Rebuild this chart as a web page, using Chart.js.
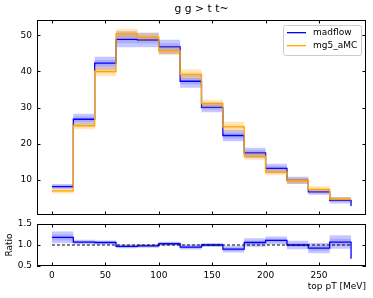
<!DOCTYPE html>
<html><head><meta charset="utf-8">
<script src="https://cdn.jsdelivr.net/npm/chart.js@4.4.0/dist/chart.umd.min.js"></script>
<style>
html,body{margin:0;padding:0;background:#fff;width:373px;height:298px;overflow:hidden}
canvas{position:absolute;left:0}
#main{top:0}
#ratio{top:218px}
</style></head><body>
<canvas id="main" width="373" height="218" style="width:373px;height:218px"></canvas>
<canvas id="ratio" width="373" height="80" style="width:373px;height:80px"></canvas>
<script>
const binEdges = [0,20,40,60,80,100,120,140,160,180,200,220,240,260,280];
const madflow = [8.2,26.8,42.3,48.9,48.7,46.8,37.3,30.1,22.3,17.5,13.2,9.9,6.7,4.4];
const madflowLast = 2.8;
const madflowErr = [0.7,1.5,1.8,2.2,2.0,2.0,1.8,1.4,1.6,1.4,1.3,1.0,0.8,0.9];
const mg5 = [7.0,25.0,40.0,50.4,49.5,45.7,39.2,31.1,24.7,16.6,12.2,9.8,7.4,4.7];
const mg5Err = [0.7,1.0,1.3,1.4,1.2,1.15,1.4,1.1,1.4,1.0,0.9,0.9,0.9,0.6];
const ratio = [1.18,1.07,1.06,0.965,0.98,1.03,0.95,1.0,0.90,1.06,1.11,1.0,0.925,1.07];
const ratioLast = 0.67;
const ratioErr = [0.14,0.055,0.05,0.045,0.045,0.045,0.06,0.05,0.08,0.1,0.095,0.1,0.12,0.16];
const xTicks = [0,50,100,150,200,250];
const yTicksMain = [10,20,30,40,50];
const yTicksRatio = [0.5,1.0,1.5];
const seriesNames = ['madflow','mg5_aMC'];
const titleText = 'g g > t t~';
const xTitle = 'top pT [MeV]';
const yTitleRatio = 'Ratio';

const FONT = 'DejaVu Sans';
const BLUE = '#0000ff', ORANGE = '#ffa500';

function steps(vals, last){
  const pts = vals.map((v,i)=>({x:binEdges[i], y:v}));
  pts.push({x:binEdges[vals.length], y: last===undefined ? vals[vals.length-1] : last});
  return pts;
}
function bandSets(vals, errs, k, color, order){
  return [
    {data: steps(vals.map((v,i)=>v+errs[i]*k)), stepped:'before', borderColor:'transparent', borderWidth:0, pointRadius:0, fill:'+1', backgroundColor:color, order},
    {data: steps(vals.map((v,i)=>v-errs[i]*k)), stepped:'before', borderColor:'transparent', borderWidth:0, pointRadius:0, fill:false, order}
  ];
}
function lineSet(vals, last, color, order, label){
  return {label, legend:!!label, data: steps(vals, last), stepped:'before', borderColor:color, borderWidth:1.3, pointRadius:0, fill:false, order};
}
function noPad(s){ s.paddingTop = 0; s.paddingBottom = 0; s.paddingLeft = 0; s.paddingRight = 0; }

const frame = {id:'frame', afterDraw(chart){
  const {ctx, chartArea:a, scales:{x,y}} = chart;
  ctx.save();
  ctx.strokeStyle = '#000'; ctx.lineWidth = 1;
  ctx.beginPath();
  x.ticks.forEach(t=>{
    const px = Math.round(x.getPixelForValue(t.value))+0.5;
    ctx.moveTo(px, a.bottom); ctx.lineTo(px, a.bottom-3.5);
    ctx.moveTo(px, a.top); ctx.lineTo(px, a.top+3.5);
  });
  y.ticks.forEach(t=>{
    const py = Math.round(y.getPixelForValue(t.value))+0.5;
    ctx.moveTo(a.left, py); ctx.lineTo(a.left+3.5, py);
    ctx.moveTo(a.right, py); ctx.lineTo(a.right-3.5, py);
  });
  ctx.stroke();
  ctx.strokeRect(Math.round(a.left)+0.5, Math.round(a.top)+0.5, Math.round(a.right-a.left)-1, Math.round(a.bottom-a.top)-1);
  ctx.restore();
}};

const legendBox = {id:'legendBox', afterDraw(chart){
  const items = chart.data.datasets.filter(d=>d.legend);
  if(!items.length) return;
  const {ctx, chartArea:a} = chart;
  const w = 78, h = 30, x0 = a.right-4.5-w, y0 = a.top+5.5;
  ctx.save();
  ctx.fillStyle = 'rgba(255,255,255,0.8)';
  ctx.strokeStyle = '#cccccc'; ctx.lineWidth = 1;
  ctx.beginPath();
  ctx.roundRect(x0, y0, w, h, 2);
  ctx.fill(); ctx.stroke();
  ctx.font = '9px "' + FONT + '"';
  ctx.textBaseline = 'middle';
  ctx.fillStyle = '#000';
  items.forEach((d,i)=>{
    const yy = y0 + 7.2 + i*13;
    ctx.strokeStyle = d.borderColor; ctx.lineWidth = 1.3;
    ctx.beginPath(); ctx.moveTo(x0+3.5, yy); ctx.lineTo(x0+22.5, yy); ctx.stroke();
    ctx.fillText(d.label, x0+29.5, yy);
  });
  ctx.restore();
}};

const tickFont = {family: FONT, size: 9};

new Chart(document.getElementById('main'), {
  type:'line',
  data:{datasets:[
    ...bandSets(madflow, madflowErr, 1, 'rgba(0,0,255,0.22)', 5),
    ...bandSets(madflow, madflowErr, 0.5, 'rgba(0,0,255,0.15)', 4),
    lineSet(madflow, madflowLast, BLUE, 3, seriesNames[0]),
    ...bandSets(mg5, mg5Err, 1, 'rgba(255,165,0,0.25)', 2),
    ...bandSets(mg5, mg5Err, 0.5, 'rgba(255,165,0,0.15)', 1),
    lineSet(mg5, undefined, ORANGE, 0, seriesNames[1])
  ]},
  options:{
    responsive:false, animation:false, devicePixelRatio:1,
    layout:{padding:{left:0,right:7,top:0,bottom:3}},
    plugins:{
      legend:{display:false}, tooltip:{enabled:false},
      title:{display:true, text:titleText, fullSize:false, color:'#000', font:{family:FONT, size:10.8, weight:'normal'}, padding:{top:3,bottom:4}}
    },
    scales:{
      x:{type:'linear', min:-14, max:294, grid:{display:false}, border:{display:false},
         ticks:{display:false}, afterBuildTicks:s=>{s.ticks = xTicks.map(v=>({value:v}));}, afterFit:s=>{s.height=0; noPad(s);}},
      y:{type:'linear', min:0.33, max:54.24, grid:{display:false, drawTicks:false}, border:{display:false},
         ticks:{font:tickFont, color:'#000', padding:5}, afterBuildTicks:s=>{s.ticks = yTicksMain.map(v=>({value:v}));}, afterFit:s=>{s.width=37; noPad(s);}}
    }
  },
  plugins:[frame, legendBox]
});

new Chart(document.getElementById('ratio'), {
  type:'line',
  data:{datasets:[
    {data:[{x:0,y:1},{x:280,y:1}], borderColor:'#000', borderWidth:1, borderDash:[3,2], pointRadius:0, fill:false, order:0},
    lineSet(ratio, ratioLast, BLUE, 1),
    ...bandSets(ratio, ratioErr, 1, 'rgba(0,0,255,0.22)', 3),
    ...bandSets(ratio, ratioErr, 0.5, 'rgba(0,0,255,0.15)', 2)
  ]},
  options:{
    responsive:false, animation:false, devicePixelRatio:1,
    layout:{padding:{left:0,right:7,top:6,bottom:0}},
    plugins:{legend:{display:false}, tooltip:{enabled:false}, title:{display:false}},
    scales:{
      x:{type:'linear', min:-14, max:294, grid:{display:false, drawTicks:false}, border:{display:false},
         ticks:{font:tickFont, color:'#000', padding:4, maxRotation:0}, afterBuildTicks:s=>{s.ticks = xTicks.map(v=>({value:v}));},
         title:{display:true, text:xTitle, align:'end', color:'#000', font:{family:FONT, size:9}, padding:{top:0,bottom:6}},
         afterFit:s=>{s.height=32; noPad(s);}},
      y:{type:'linear', min:0.5, max:1.5, grid:{display:false, drawTicks:false}, border:{display:false},
         ticks:{font:tickFont, color:'#000', padding:5, callback:v=>Number(v).toFixed(1)}, afterBuildTicks:s=>{s.ticks = yTicksRatio.map(v=>({value:v}));},
         title:{display:true, text:yTitleRatio, color:'#000', font:{family:FONT, size:9}, padding:{top:4,bottom:0}},
         afterFit:s=>{s.width=37; noPad(s);}}
    }
  },
  plugins:[frame]
});
</script>
</body></html>
